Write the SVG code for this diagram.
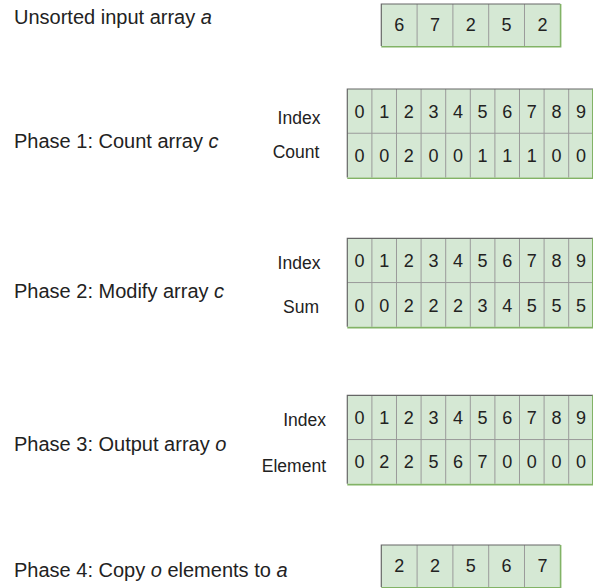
<svg xmlns="http://www.w3.org/2000/svg" xmlns:xlink="http://www.w3.org/1999/xlink" width="593" height="588" viewBox="0 0 593 588">
<style>
text{font-family:"Liberation Sans",Arial,sans-serif;fill:#222}
.t{font-size:20px}
.l{font-size:17.5px}
.d{font-size:18px;text-anchor:middle}
.c{fill:#d5e8d4;stroke:none}
.in{stroke:#9a9a9a;stroke-width:1;fill:none}
.tl{stroke:#666;stroke-width:1.2;fill:none}
.br{stroke:#82b366;stroke-width:1.6;fill:none}
</style>
<defs>
<g id="grid10">
<rect class="c" x="0" y="0" width="246" height="88.5"/>
<path class="in" d="M24.6 0V88.5M49.2 0V88.5M73.8 0V88.5M98.4 0V88.5M123 0V88.5M147.6 0V88.5M172.2 0V88.5M196.8 0V88.5M221.4 0V88.5M0 44.25H246"/>
<path class="tl" d="M0 88.5V0H246"/>
<path class="br" d="M245.5 0V89.3H0"/>
</g>
<g id="grid5">
<rect class="c" x="0" y="0" width="179" height="42"/>
<path class="in" d="M35.8 0V42M71.6 0V42M107.4 0V42M143.2 0V42"/>
<path class="tl" d="M0 42V0H179"/>
<path class="br" d="M179.3 0V42.8H0"/>
</g>
</defs>

<g id="input-label"><text class="t" x="14" y="24">Unsorted input array <tspan font-style="italic">a</tspan></text></g>
<g id="input-array">
<use xlink:href="#grid5" x="381.3" y="4"/>
<text class="d" y="31"><tspan x="399.2">6</tspan><tspan x="435">7</tspan><tspan x="470.8">2</tspan><tspan x="506.6">5</tspan><tspan x="542.4">2</tspan></text>
</g>

<g id="phase1-label"><text class="t" x="14" y="148">Phase 1: Count array <tspan font-style="italic">c</tspan></text></g>
<g id="phase1-rowlabels">
<text class="l" x="299" y="124" text-anchor="middle">Index</text>
<text class="l" x="296" y="158" text-anchor="middle">Count</text>
</g>
<g id="phase1-array">
<use xlink:href="#grid10" x="347.3" y="89"/>
<text class="d" y="117.5"><tspan x="359.6">0</tspan><tspan x="384.2">1</tspan><tspan x="408.8">2</tspan><tspan x="433.4">3</tspan><tspan x="458">4</tspan><tspan x="482.6">5</tspan><tspan x="507.2">6</tspan><tspan x="531.8">7</tspan><tspan x="556.4">8</tspan><tspan x="581">9</tspan></text>
<text class="d" y="162"><tspan x="359.6">0</tspan><tspan x="384.2">0</tspan><tspan x="408.8">2</tspan><tspan x="433.4">0</tspan><tspan x="458">0</tspan><tspan x="482.6">1</tspan><tspan x="507.2">1</tspan><tspan x="531.8">1</tspan><tspan x="556.4">0</tspan><tspan x="581">0</tspan></text>
</g>

<g id="phase2-label"><text class="t" x="14" y="298">Phase 2: Modify array <tspan font-style="italic">c</tspan></text></g>
<g id="phase2-rowlabels">
<text class="l" x="299" y="269" text-anchor="middle">Index</text>
<text class="l" x="301" y="313" text-anchor="middle">Sum</text>
</g>
<g id="phase2-array">
<use xlink:href="#grid10" x="347.3" y="238.3"/>
<text class="d" y="267"><tspan x="359.6">0</tspan><tspan x="384.2">1</tspan><tspan x="408.8">2</tspan><tspan x="433.4">3</tspan><tspan x="458">4</tspan><tspan x="482.6">5</tspan><tspan x="507.2">6</tspan><tspan x="531.8">7</tspan><tspan x="556.4">8</tspan><tspan x="581">9</tspan></text>
<text class="d" y="311.5"><tspan x="359.6">0</tspan><tspan x="384.2">0</tspan><tspan x="408.8">2</tspan><tspan x="433.4">2</tspan><tspan x="458">2</tspan><tspan x="482.6">3</tspan><tspan x="507.2">4</tspan><tspan x="531.8">5</tspan><tspan x="556.4">5</tspan><tspan x="581">5</tspan></text>
</g>

<g id="phase3-label"><text class="t" x="14" y="451">Phase 3: Output array <tspan font-style="italic">o</tspan></text></g>
<g id="phase3-rowlabels">
<text class="l" x="326" y="426" text-anchor="end">Index</text>
<text class="l" x="326" y="472" text-anchor="end">Element</text>
</g>
<g id="phase3-array">
<use xlink:href="#grid10" x="347.3" y="395.3"/>
<text class="d" y="423.5"><tspan x="359.6">0</tspan><tspan x="384.2">1</tspan><tspan x="408.8">2</tspan><tspan x="433.4">3</tspan><tspan x="458">4</tspan><tspan x="482.6">5</tspan><tspan x="507.2">6</tspan><tspan x="531.8">7</tspan><tspan x="556.4">8</tspan><tspan x="581">9</tspan></text>
<text class="d" y="468"><tspan x="359.6">0</tspan><tspan x="384.2">2</tspan><tspan x="408.8">2</tspan><tspan x="433.4">5</tspan><tspan x="458">6</tspan><tspan x="482.6">7</tspan><tspan x="507.2">0</tspan><tspan x="531.8">0</tspan><tspan x="556.4">0</tspan><tspan x="581">0</tspan></text>
</g>

<g id="phase4-label"><text class="t" x="14" y="577">Phase 4: Copy <tspan font-style="italic">o</tspan> elements to <tspan font-style="italic">a</tspan></text></g>
<g id="output-array">
<use xlink:href="#grid5" x="381.3" y="545"/>
<text class="d" y="572"><tspan x="399.2">2</tspan><tspan x="435">2</tspan><tspan x="470.8">5</tspan><tspan x="506.6">6</tspan><tspan x="542.4">7</tspan></text>
</g>
</svg>
